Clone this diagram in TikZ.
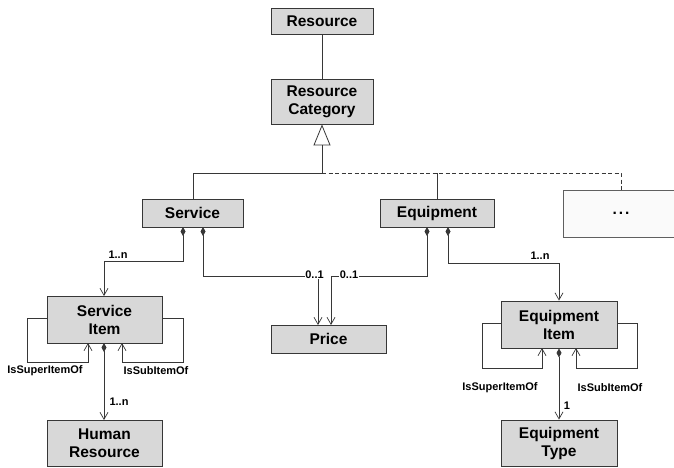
\documentclass[tikz,border=0pt]{standalone}
\usepackage{fontspec}
\setmainfont{Liberation Sans}
\usetikzlibrary{arrows.meta}
\definecolor{boxfill}{RGB}{216,216,216}
\definecolor{morefill}{RGB}{250,250,250}
\definecolor{edge}{RGB}{55,55,55}
\tikzset{
  classbox/.style={draw=edge, line width=0.9pt, fill=boxfill, inner sep=0pt,
    align=center, font=\fontsize{15.5}{18}\selectfont\bfseries},
  morebox/.style={draw=edge!80, line width=0.9pt, fill=morefill, inner sep=0pt,
    font=\fontsize{15.5}{18}\selectfont\bfseries},
  conn/.style={draw=edge, line width=0.8pt},
  navig/.style={conn, -{Straight Barb[length=7pt,width=8pt,line width=0.7pt]}},
  compnav/.style={conn, {Diamond[length=9pt,width=5pt]}-{Straight Barb[length=7pt,width=8pt,line width=0.7pt]}},
  mult/.style={font=\fontsize{11}{13}\selectfont\bfseries, inner sep=0.5pt},
  multbg/.style={mult, fill=white},
}
\begin{document}
\begin{tikzpicture}[x=1pt, y=-1pt]
\useasboundingbox[fill=white] (0,0) rectangle (674,468);

% classes
\node[classbox, minimum width=102pt, minimum height=26pt] (res) at (322,21) {Resource};
\node[classbox, minimum width=102pt, minimum height=45pt] (cat) at (322,101.5) {Resource\\Category};
\node[classbox, minimum width=101pt, minimum height=28pt] (svc) at (192.5,213) {Service};
\node[classbox, minimum width=114pt, minimum height=28pt] (eqp) at (437,213) {Equipment};
\node[morebox, minimum width=116pt, minimum height=47pt] (more) at (621,213.5) {.\kern2pt.\kern2pt.};
\node[classbox, minimum width=115pt, minimum height=28pt] (price) at (328.5,339) {Price};
\node[classbox, minimum width=115pt, minimum height=47pt] (sitem) at (104.5,319.5) {Service\\Item};
\node[classbox, minimum width=115pt, minimum height=46pt] (hres) at (104.5,443) {Human\\Resource};
\node[classbox, minimum width=116pt, minimum height=47pt] (eitem) at (559,324.5) {Equipment\\Item};
\node[classbox, minimum width=116pt, minimum height=46pt] (etype) at (559,443) {Equipment\\Type};

% generalisation tree
\draw[conn] (res.south) -- (cat.north);
\coordinate (gen) at (322,173);
\coordinate (genL) at (193,173);
\coordinate (genE) at (437,173);
\coordinate (genM) at (621,173);
\draw[conn, -{Triangle[open, length=21pt, width=17pt, line width=0.8pt]}] (gen) -- (cat.south);
\draw[conn] (genL) -- (gen);
\draw[conn] (genL) -- (genL |- svc.north);
\draw[conn] (genE) -- (genE |- eqp.north);
\draw[conn, dash pattern=on 4pt off 2.5pt] (gen) -- (genM) -- (more.north);

% Service -> Service Item
\coordinate (siTop) at (104,296);
\draw[compnav] (183,227) -- (183,261) -- (104,261) -- (siTop);
\node[mult] at (118,255) {1..n};

% Service -> Price, Equipment -> Price
\draw[compnav] (203,227) -- (203,276) -- (318,276) -- (318,325);
\draw[compnav] (427,227) -- (427,276) -- (331,276) -- (331,325);
\node[multbg] at (314.5,275) {0..1};
\node[multbg] at (349,275) {0..1};

% Equipment -> Equipment Item
\draw[compnav] (448,227) -- (448,263) -- (559,263) -- (eitem.north);
\node[mult] at (540,256) {1..n};

% Service Item self associations
\draw[navig] (47,318) -- (27,318) -- (27,362) -- (88,362) -- (88,343);
\draw[navig] (162,318) -- (183,318) -- (183,362) -- (122,362) -- (122,343);
\node[mult] at (45,371) {IsSuperItemOf};
\node[mult] at (156,371) {IsSubItemOf};
\draw[compnav] (104,343) -- (104,420);
\node[mult] at (119,402) {1..n};

% Equipment Item self associations
\draw[navig] (501,323) -- (482,323) -- (482,368) -- (542,368) -- (542,348);
\draw[navig] (617,323) -- (637,323) -- (637,368) -- (576,368) -- (576,348);
\node[mult] at (500,388) {IsSuperItemOf};
\node[mult] at (610,388) {IsSubItemOf};
\draw[compnav] (eitem.south) -- (etype.north);
\node[mult] at (567,406) {1};
\end{tikzpicture}
\end{document}
